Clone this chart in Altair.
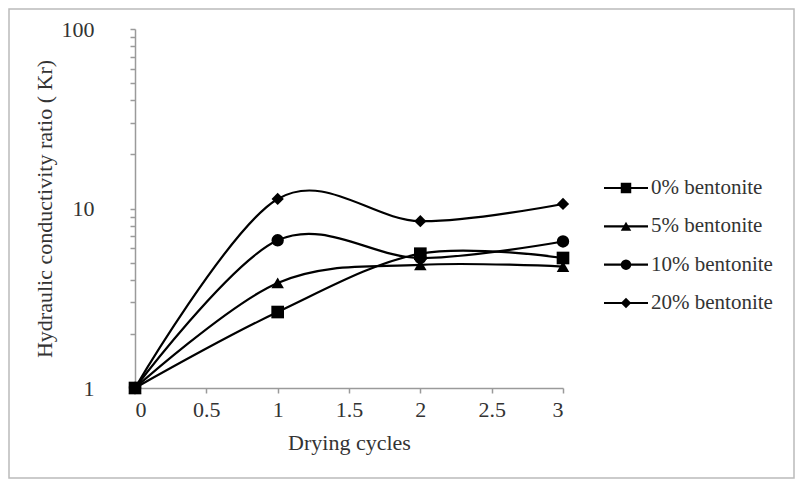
import altair as alt
import pandas as pd

cycles = [0, 1, 2, 3]
series_names = ["0% bentonite", "5% bentonite", "10% bentonite", "20% bentonite"]
kr_0 = [1, 2.65, 5.6, 5.3]
kr_5 = [1, 3.85, 4.85, 4.75]
kr_10 = [1, 6.65, 5.3, 6.55]
kr_20 = [1, 11.3, 8.5, 10.6]

rows = []
for name, vals in zip(series_names, [kr_0, kr_5, kr_10, kr_20]):
    for c, v in zip(cycles, vals):
        rows.append({"cycle": c, "kr": v, "series": name})
df = pd.DataFrame(rows)
legend_df = pd.DataFrame({"series": series_names})

FONT = "Liberation Serif"
FS = 22
x_enc = alt.X("cycle:Q", scale=alt.Scale(domain=[0, 3], nice=False),
              axis=alt.Axis(values=[0, 0.5, 1, 1.5, 2, 2.5, 3], title="Drying cycles",
                            format="~g", grid=False, tickSize=5, labelPadding=6,
                            titlePadding=12))
minor = [1, 2, 3, 4, 5, 6, 7, 8, 9, 10, 20, 30, 40, 50, 60, 70, 80, 90, 100]
y_enc = alt.Y("kr:Q", scale=alt.Scale(type="log", domain=[1, 100], nice=False),
              axis=alt.Axis(values=minor, format="d",
                            labelExpr="(datum.value==1||datum.value==10||datum.value==100) ? datum.label : ''",
                            title="Hydraulic conductivity ratio ( Kr)", grid=False,
                            tickSize=5, labelPadding=36, titlePadding=5))

shape_range = ["square", "triangle-up", "circle", "diamond"]

base = alt.Chart(df)

lines = base.mark_line(interpolate="cardinal", color="black", strokeWidth=2.2).encode(
    x=x_enc, y=y_enc, detail="series:N")

points = base.mark_point(filled=True, color="black", opacity=1).encode(
    x=x_enc, y=y_enc,
    shape=alt.Shape("series:N", scale=alt.Scale(domain=series_names, range=shape_range),
                    legend=None),
    size=alt.Size("series:N", scale=alt.Scale(domain=series_names, range=[160, 150, 145, 115]),
                  legend=None))

main = alt.layer(lines, points)

# legend, drawn to the right of the plot
leg_y = alt.Y("series:N", scale=alt.Scale(type="point", domain=series_names,
                                          range=[159, 274], padding=0),
              axis=None)
leg_base = alt.Chart(legend_df)
leg_rule = leg_base.mark_rule(color="black", strokeWidth=2.2).encode(
    x=alt.value(469), x2=alt.value(513), y=leg_y)
leg_pt = leg_base.mark_point(filled=True, color="black", opacity=1).encode(
    x=alt.value(491), y=leg_y,
    shape=alt.Shape("series:N", scale=alt.Scale(domain=series_names, range=shape_range),
                    legend=None),
    size=alt.Size("series:N", scale=alt.Scale(domain=series_names, range=[110, 110, 110, 80]),
                  legend=None))
leg_txt = leg_base.mark_text(align="left", baseline="middle", font=FONT, fontSize=21,
                             color="#333333").encode(
    x=alt.value(516), y=leg_y, text="series:N")
legend = alt.layer(leg_rule, leg_pt, leg_txt)

border = alt.Chart(alt.Data(values=[{"a": 1}])).mark_rect(
    fill=None, stroke="#bbbbbb", strokeWidth=1.5).encode(
    x=alt.value(-126), x2=alt.value(659), y=alt.value(-20), y2=alt.value(449))

chart = alt.layer(border, main, legend).resolve_scale(
    y="independent", shape="independent", size="independent"
).properties(
    width=428, height=359,
    autosize=alt.AutoSizeParams(type="none"),
    padding={"left": 127, "top": 21, "right": 232, "bottom": 91},
    background="white",
).configure(font=FONT).configure_view(stroke=None).configure_text(font=FONT).configure_axis(
    labelFont=FONT, titleFont=FONT, labelFontSize=FS, titleFontSize=FS,
    titleFontWeight="normal", labelColor="#333333", titleColor="#333333",
    domainColor="#9a9a9a", tickColor="#9a9a9a", domainWidth=1.5, tickWidth=1.5,
)

chart.save("out.html", embed_options={"renderer": "svg", "actions": False})
